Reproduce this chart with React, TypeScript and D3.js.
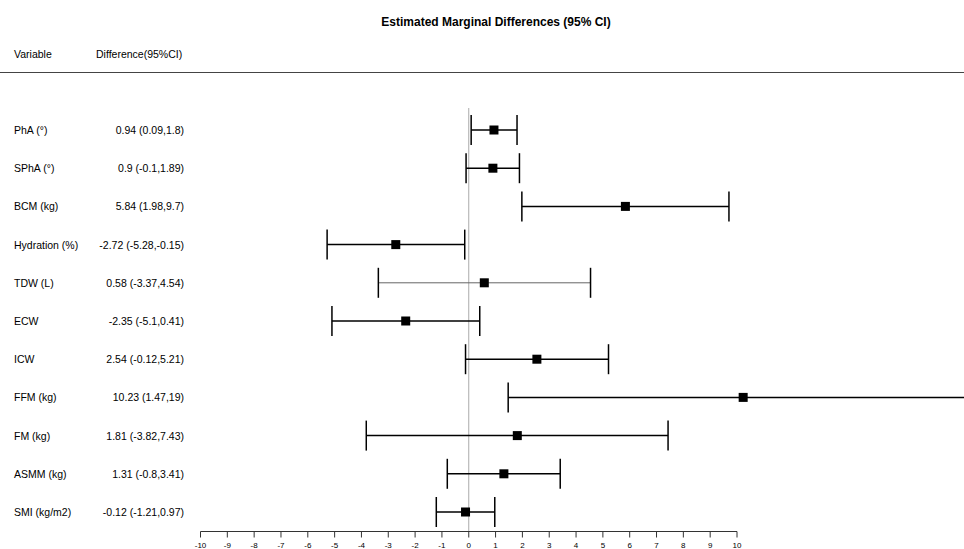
import * as React from 'react';
import * as d3 from 'd3';

const variables = ["PhA (°)", "SPhA (°)", "BCM (kg)", "Hydration (%)", "TDW (L)", "ECW", "ICW", "FFM (kg)", "FM (kg)", "ASMM (kg)", "SMI (kg/m2)"];
const estimates = [0.94, 0.9, 5.84, -2.72, 0.58, -2.35, 2.54, 10.23, 1.81, 1.31, -0.12];
const lower = [0.09, -0.1, 1.98, -5.28, -3.37, -5.1, -0.12, 1.47, -3.82, -0.8, -1.21];
const upper = [1.8, 1.89, 9.7, -0.15, 4.54, 0.41, 5.21, 19, 7.43, 3.41, 0.97];
const ciLabels = ["0.94 (0.09,1.8)", "0.9 (-0.1,1.89)", "5.84 (1.98,9.7)", "-2.72 (-5.28,-0.15)", "0.58 (-3.37,4.54)", "-2.35 (-5.1,0.41)", "2.54 (-0.12,5.21)", "10.23 (1.47,19)", "1.81 (-3.82,7.43)", "1.31 (-0.8,3.41)", "-0.12 (-1.21,0.97)"];
const xTicks = d3.range(-10, 11);

const W = 964;
const H = 549;
const font = "'Liberation Sans', Arial, sans-serif";

export default function App() {
    const x = d3.scaleLinear().domain([-10, 10]).range([200.5, 737]);
    const y = d3.scalePoint<string>().domain(variables).range([130, 512]);
    const axisY = 531.5;
    const cap = 15;
    const box = 9;

    return (
        <svg width={W} height={H} style={{position: "absolute", left: 0, top: 0, background: "#fff"}}
             fontFamily={font}>
            <text x={496} y={26} textAnchor="middle" fontSize={12} fontWeight="bold">
                Estimated Marginal Differences (95% CI)
            </text>
            <text x={14} y={58} fontSize={10.5}>Variable</text>
            <text x={96} y={58} fontSize={10.5}>Difference(95%CI)</text>
            <line x1={0} x2={W} y1={72.5} y2={72.5} stroke="#444" strokeWidth={1}/>

            {/* reference line at zero */}
            <line x1={x(0)} x2={x(0)} y1={108} y2={axisY} stroke="#aaa" strokeWidth={1}/>

            {variables.map((v, i) => {
                const yy = y(v) as number;
                const thin = v === "TDW (L)";
                return (
                    <g key={v}>
                        <text x={14} y={yy + 4} fontSize={10.5}>{v}</text>
                        <text x={184} y={yy + 4} fontSize={10.5} textAnchor="end">{ciLabels[i]}</text>
                        <line x1={x(lower[i])} x2={x(upper[i])} y1={yy} y2={yy}
                              stroke={thin ? "#666" : "#000"} strokeWidth={thin ? 1 : 1.5}/>
                        <line x1={x(lower[i])} x2={x(lower[i])} y1={yy - cap} y2={yy + cap} stroke="#000" strokeWidth={1.5}/>
                        <line x1={x(upper[i])} x2={x(upper[i])} y1={yy - cap} y2={yy + cap} stroke="#000" strokeWidth={1.5}/>
                        <rect x={x(estimates[i]) - box / 2} y={yy - box / 2} width={box} height={box} fill="#000"/>
                    </g>
                );
            })}

            {/* x axis */}
            <line x1={x(-10)} x2={x(10)} y1={axisY} y2={axisY} stroke="#333" strokeWidth={1}/>
            {xTicks.map(t => (
                <g key={t}>
                    <line x1={x(t)} x2={x(t)} y1={axisY} y2={axisY + 6} stroke="#333" strokeWidth={1}/>
                    <text x={x(t)} y={547.5} fontSize={8} textAnchor="middle">{t}</text>
                </g>
            ))}
        </svg>
    );
}
